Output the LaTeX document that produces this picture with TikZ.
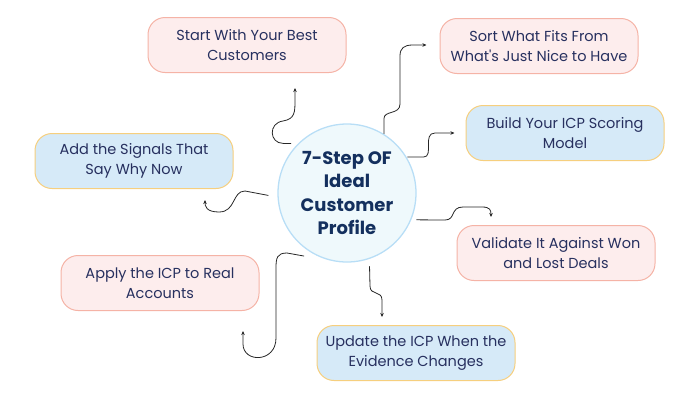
\documentclass[tikz,border=0pt]{standalone}
\usepackage{fontspec}
\setmainfont{Poppins}
\usetikzlibrary{arrows.meta,calc}

\definecolor{navy}{HTML}{27305F}
\definecolor{hubtext}{HTML}{14305E}
\definecolor{pinkfill}{HTML}{FDEDED}
\definecolor{pinkline}{HTML}{F5B3A6}
\definecolor{bluefill}{HTML}{D6EAF8}
\definecolor{goldline}{HTML}{F6CF7E}
\definecolor{hubfill}{HTML}{EFF9FC}
\definecolor{hubline}{HTML}{B8DEF6}

\begin{document}
\begin{tikzpicture}[
        x=1pt, y=-1pt,
        pinkbox/.style={draw=pinkline, fill=pinkfill, line width=1pt, rounded corners=17pt, minimum width=198pt, minimum height=55pt, align=center, text=navy, font=\fontsize{14.5}{20}\selectfont},
        bluebox/.style={pinkbox, draw=goldline, fill=bluefill},
        hub/.style={circle, draw=hubline, fill=hubfill, line width=1.3pt, minimum size=138pt, inner sep=0pt, align=center, text=hubtext, font=\bfseries\fontsize{18}{23.5}\selectfont},
        link/.style={draw=black!85, line width=0.8pt, -{Stealth[length=4pt,width=3.5pt]}}
    ]
        \useasboundingbox (0,0) rectangle (700,400);

        % Central topic
        \node (icp) [hub] at (347,193) {7-Step OF\\Ideal\\Customer\\Profile};

        % Steps
        \node (best) [pinkbox] at (247,45) {Start With Your Best\\Customers};
        \node (sort) [pinkbox] at (539,46) {Sort What Fits From\\What\textquotesingle s Just Nice to Have};
        \node (score) [bluebox] at (565,133) {Build Your ICP Scoring\\Model};
        \node (signals) [bluebox] at (134,161) {Add the Signals That\\Say Why Now};
        \node (validate) [pinkbox] at (556,253) {Validate It Against Won\\and Lost Deals};
        \node (apply) [pinkbox] at (160,283) {Apply the ICP to Real\\Accounts};
        \node (update) [bluebox] at (416,353) {Update the ICP When the\\Evidence Changes};

        % Link ends
        \coordinate (bestin) at ($(best.south)+(48,15)$);
        \coordinate (sortin) at ($(sort.west)+(-13,-1)$);
        \coordinate (scorein) at ($(score.west)+(-11,0)$);
        \coordinate (signalsin) at ($(signals.south)+(71,11)$);
        \coordinate (validatein) at ($(validate.north)+(-65,-8)$);
        \coordinate (applyin) at ($(apply.south)+(83,20)$);
        \coordinate (updatein) at ($(update.north)+(-34,-8)$);

        % Connections
        \draw [link] (icp.138) ++(-4,-3) -- ++(-8,0) .. controls +(-14,0) and (268,123) .. (283,121)
            .. controls (295,119) and (295,112) .. (295,100) -- (bestin);
        \draw [link] (icp.58) -- ++(0,-15) .. controls +(0,-9) and (400,115) .. (400,104)
            -- (400,56) .. controls (400,48) and (404,45) .. (413,45) -- (sortin);
        \draw [link] (icp.33) ++(2,2) -- ++(16,0) .. controls +(11,0) and (422,133) .. (435,133) -- (scorein);
        \draw [link] (icp.182) ++(-9,0) -- (245,191) .. controls (232,191) and (236,212) .. (219,212)
            .. controls (206,212) and (205,206) .. (signalsin);
        \draw [link] (icp.-20) ++(4,3) -- (445,220) .. controls (456,220) and (450,207) .. (463,207)
            -- (482,207) .. controls (490,207) and (491,210) .. (validatein);
        \draw [link] (icp.235) ++(-3,6) -- (287,253) .. controls (277,253) and (276,258) .. (276,268)
            -- (276,338) .. controls (276,363) and (243,363) .. (243,344) -- (applyin);
        \draw [link] (icp.-72) ++(1,7) -- (370,286) .. controls (370,296) and (382,290) .. (382,300) -- (updatein);

    \end{tikzpicture}
\end{document}
